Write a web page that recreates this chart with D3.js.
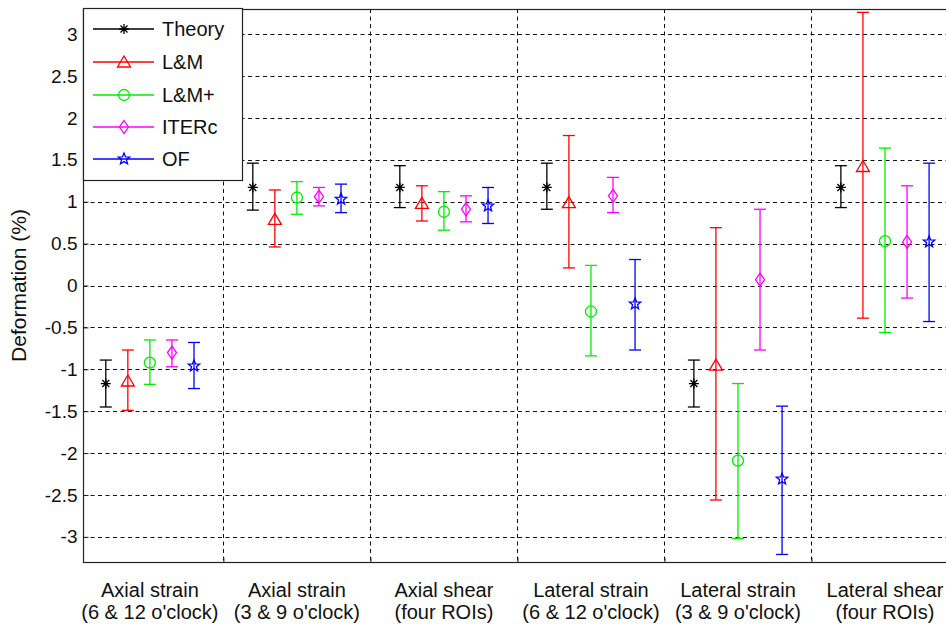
<!DOCTYPE html>
<html>
<head>
<meta charset="utf-8">
<script src="https://cdn.jsdelivr.net/npm/d3@7"></script>
<style>
  body { margin: 0; background: #fff; }
  svg { display: block; font-family: "Liberation Sans", Arial, sans-serif; }
</style>
</head>
<body>
<svg id="chart" width="946" height="624"></svg>
<script>
// ---- data ----
const categories = [
  ["Axial strain", "(6 & 12 o'clock)"],
  ["Axial strain", "(3 & 9 o'clock)"],
  ["Axial shear", "(four ROIs)"],
  ["Lateral strain", "(6 & 12 o'clock)"],
  ["Lateral strain", "(3 & 9 o'clock)"],
  ["Lateral shear", "(four ROIs)"]
];
const seriesNames = ["Theory", "L&M", "L&M+", "ITERc", "OF"];
const seriesColors = ["#000000", "#ff0000", "#00ee00", "#ff00ff", "#0000ff"];
const yTicks = [-3, -2.5, -2, -1.5, -1, -0.5, 0, 0.5, 1, 1.5, 2, 2.5, 3];

const theoryMean = [-1.17, 1.17, 1.17, 1.17, -1.17, 1.17];
const theoryLow  = [-1.45, 0.90, 0.93, 0.91, -1.45, 0.93];
const theoryHigh = [-0.89, 1.46, 1.43, 1.46, -0.89, 1.43];

const lmMean = [-1.14, 0.79, 0.98, 0.99, -0.95, 1.42];
const lmLow  = [-1.49, 0.46, 0.77, 0.21, -2.56, -0.39];
const lmHigh = [-0.77, 1.14, 1.19, 1.79, 0.69, 3.26];

const lmpMean = [-0.92, 1.05, 0.88, -0.31, -2.09, 0.53];
const lmpLow  = [-1.18, 0.85, 0.66, -0.84, -3.02, -0.56];
const lmpHigh = [-0.65, 1.24, 1.12, 0.24, -1.17, 1.64];

const itercMean = [-0.80, 1.06, 0.91, 1.07, 0.07, 0.52];
const itercLow  = [-0.97, 0.95, 0.76, 0.87, -0.77, -0.15];
const itercHigh = [-0.65, 1.17, 1.07, 1.29, 0.91, 1.19];

const ofMean = [-0.96, 1.03, 0.95, -0.22, -2.31, 0.52];
const ofLow  = [-1.23, 0.87, 0.74, -0.77, -3.21, -0.43];
const ofHigh = [-0.68, 1.21, 1.17, 0.31, -1.44, 1.46];

const seriesData = [
  [theoryMean, theoryLow, theoryHigh],
  [lmMean, lmLow, lmHigh],
  [lmpMean, lmpLow, lmpHigh],
  [itercMean, itercLow, itercHigh],
  [ofMean, ofLow, ofHigh]
];

// ---- layout ----
const svg = d3.select("#chart");
const plotLeft = 83, plotRight = 958.5, plotTop = 9, plotBottom = 562;
const x = d3.scaleLinear().domain([0.545, 6.5]).range([plotLeft, plotRight]);
const y = d3.scaleLinear().domain([-3.3, 3.3]).range([plotBottom, plotTop]);
const offsets = [-0.3, -0.15, 0, 0.15, 0.3];
const capHalf = 6;

// marker paths centred on 0,0
function markerPath(i) {
  const p = d3.path();
  if (i === 0) { // asterisk
    const r = 5;
    p.moveTo(-r, 0); p.lineTo(r, 0);
    p.moveTo(0, -r); p.lineTo(0, r);
    p.moveTo(-r * 0.7, -r * 0.7); p.lineTo(r * 0.7, r * 0.7);
    p.moveTo(-r * 0.7, r * 0.7); p.lineTo(r * 0.7, -r * 0.7);
  } else if (i === 1) { // triangle
    p.moveTo(0, -6); p.lineTo(6.5, 5); p.lineTo(-6.5, 5); p.closePath();
  } else if (i === 2) { // circle
    p.arc(0, 0, 5.5, 0, 2 * Math.PI);
  } else if (i === 3) { // diamond
    p.moveTo(0, -6.5); p.lineTo(4.5, 0); p.lineTo(0, 6.5); p.lineTo(-4.5, 0); p.closePath();
  } else { // pentagram
    const ro = 6, ri = 2.6;
    for (let k = 0; k < 10; k++) {
      const a = -Math.PI / 2 + k * Math.PI / 5;
      const r = k % 2 ? ri : ro;
      if (k === 0) p.moveTo(r * Math.cos(a), r * Math.sin(a));
      else p.lineTo(r * Math.cos(a), r * Math.sin(a));
    }
    p.closePath();
  }
  return p.toString();
}

// ---- grid ----
const grid = svg.append("g").attr("stroke", "#111").attr("stroke-width", 1)
  .attr("stroke-dasharray", "4,3.5");
grid.selectAll(".hg").data(yTicks).enter().append("line")
  .attr("x1", plotLeft).attr("x2", plotRight)
  .attr("y1", d => Math.round(y(d)) + 0.5).attr("y2", d => Math.round(y(d)) + 0.5);
const dividers = d3.range(1.5, 6, 1);
grid.selectAll(".vg").data(dividers).enter().append("line")
  .attr("x1", d => Math.round(x(d)) + 0.5).attr("x2", d => Math.round(x(d)) + 0.5)
  .attr("y1", plotTop).attr("y2", plotBottom);

// ---- axes frame ----
svg.append("rect").attr("x", plotLeft + 0.5).attr("y", plotTop + 0.5)
  .attr("width", plotRight - plotLeft).attr("height", plotBottom - plotTop)
  .attr("fill", "none").attr("stroke", "#222").attr("stroke-width", 1.2);

const yAxis = svg.append("g").attr("transform", `translate(${plotLeft + 0.5},0)`)
  .call(d3.axisLeft(y).tickValues(yTicks).tickSize(-5).tickPadding(6)
    .tickFormat(d => String(d)));
yAxis.select(".domain").remove();
yAxis.selectAll(".tick line").attr("stroke", "#222");
yAxis.selectAll("text").attr("font-size", 19).attr("fill", "#111")
  .attr("font-family", "Liberation Sans, Arial, sans-serif");

const xAxis = svg.append("g").attr("transform", `translate(0,${plotBottom + 0.5})`)
  .call(d3.axisBottom(x).tickValues(dividers).tickSize(-5).tickFormat(""));
xAxis.select(".domain").remove();
xAxis.selectAll(".tick line").attr("stroke", "#222");

svg.append("text")
  .attr("transform", `translate(26,${(plotTop + plotBottom) / 2}) rotate(-90)`)
  .attr("text-anchor", "middle").attr("font-size", 21).attr("fill", "#111")
  .text("Deformation (%)");

const catLabels = svg.append("g").selectAll("text").data(categories).enter().append("text")
  .attr("x", (d, i) => x(i + 1)).attr("text-anchor", "middle")
  .attr("font-size", 20).attr("fill", "#111");
catLabels.append("tspan").attr("x", (d, i) => x(i + 1)).attr("y", 597).text(d => d[0]);
catLabels.append("tspan").attr("x", (d, i) => x(i + 1)).attr("y", 619).text(d => d[1]);

// ---- error bars ----
seriesData.forEach((s, si) => {
  const [mean, low, high] = s;
  const color = seriesColors[si];
  const g = svg.append("g").attr("stroke", color).attr("fill", "none").attr("stroke-width", 1.3);
  const xs = i => x(i + 1 + offsets[si]);
  const idx = d3.range(mean.length);
  g.selectAll(".v").data(idx).enter().append("line")
    .attr("x1", xs).attr("x2", xs)
    .attr("y1", i => y(low[i])).attr("y2", i => y(high[i]));
  g.selectAll(".lo").data(idx).enter().append("line")
    .attr("x1", i => xs(i) - capHalf).attr("x2", i => xs(i) + capHalf)
    .attr("y1", i => y(low[i])).attr("y2", i => y(low[i]));
  g.selectAll(".hi").data(idx).enter().append("line")
    .attr("x1", i => xs(i) - capHalf).attr("x2", i => xs(i) + capHalf)
    .attr("y1", i => y(high[i])).attr("y2", i => y(high[i]));
  g.selectAll(".m").data(idx).enter().append("path")
    .attr("d", markerPath(si))
    .attr("transform", i => `translate(${xs(i)},${y(mean[i])})`);
});

// ---- legend ----
const leg = svg.append("g");
leg.append("rect").attr("x", 83.5).attr("y", 8.5).attr("width", 159).attr("height", 172)
  .attr("fill", "#fff").attr("stroke", "#222").attr("stroke-width", 1.2);
const rowY = [29, 62, 95, 127, 159];
seriesNames.forEach((name, i) => {
  const ry = rowY[i];
  const c = seriesColors[i];
  leg.append("line").attr("x1", 93).attr("x2", 154).attr("y1", ry).attr("y2", ry)
    .attr("stroke", c).attr("stroke-width", 1.3);
  leg.append("path").attr("d", markerPath(i)).attr("transform", `translate(124,${ry})`)
    .attr("fill", "none").attr("stroke", c).attr("stroke-width", 1.3);
  leg.append("text").attr("x", 162).attr("y", ry + 7).attr("font-size", 20)
    .attr("fill", "#111").text(name);
});
</script>
</body>
</html>
